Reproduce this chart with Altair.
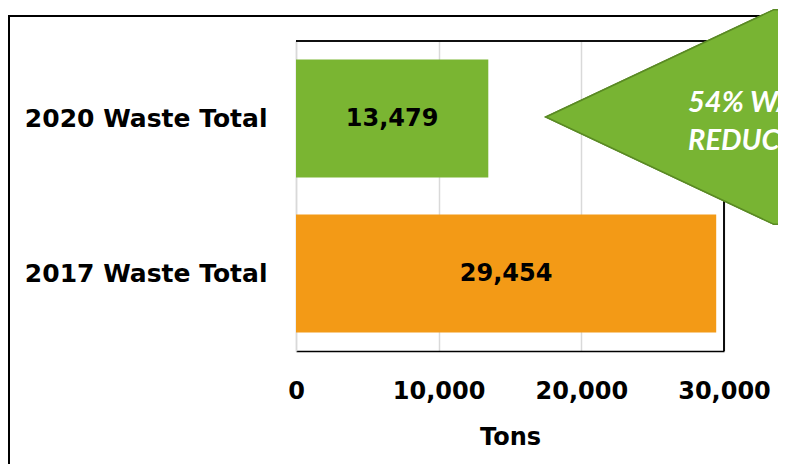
import altair as alt
import pandas as pd

categories = ["2020 Waste Total", "2017 Waste Total"]
tons = [13479, 29454]
bar_colors = ["#7AB532", "#F39A16"]
x_ticks = [0, 10000, 20000, 30000]
callout_lines = ["54% WASTE", "REDUCTION"]
x_title = "Tons"

df = pd.DataFrame({"category": categories, "tons": tons})

W, H = 428, 310
FONT = "DejaVu Sans"

y_axis = alt.Axis(title=None, ticks=False, labelPadding=29, labelFontSize=25,
                  labelFont=FONT, labelFontWeight="bold", labelColor="black",
                  domainColor="#d9d9d9", domainWidth=1.5, labelLimit=400)
x_axis = alt.Axis(values=x_ticks, labelExpr="format(datum.value, ',')", title=x_title,
                  ticks=False, labelFlush=False, labelOverlap=False,
                  labelPadding=28, labelFontSize=24, labelFont=FONT,
                  labelFontWeight="bold", labelColor="black",
                  titleFontSize=24, titleFont=FONT, titleFontWeight="bold",
                  titleColor="black", titlePadding=22,
                  domainColor="black", domainWidth=1.5,
                  gridColor="#d9d9d9", gridWidth=1.5)
x_scale = alt.Scale(domain=[0, 30000], nice=False)
y_scale = alt.Scale(paddingInner=0.24, paddingOuter=0.12)

base = alt.Chart(df)

bars = base.mark_bar().encode(
    y=alt.Y("category:N", sort=categories, scale=y_scale, axis=y_axis),
    x=alt.X("tons:Q", scale=x_scale, axis=x_axis, title=x_title),
    color=alt.Color("category:N", scale=alt.Scale(domain=categories, range=bar_colors),
                    legend=None),
)

labels = base.transform_calculate(mid="datum.tons / 2").mark_text(
    font=FONT, fontSize=24, fontWeight="bold", color="black", baseline="middle"
).encode(
    y=alt.Y("category:N", sort=categories, scale=y_scale, axis=y_axis),
    x=alt.X("mid:Q", scale=x_scale, axis=x_axis, title=x_title),
    text=alt.Text("tons:Q", format=","),
)

top_rule = base.mark_rule(color="black", strokeWidth=1.5).encode(
    x=alt.value(0), x2=alt.value(W), y=alt.value(0))
right_rule = base.mark_rule(color="black", strokeWidth=1.5).encode(
    x=alt.value(W), y=alt.value(0), y2=alt.value(H))

frame = base.mark_rect(fill=None, stroke="black", strokeWidth=2).encode(
    x=alt.value(-287), x2=alt.value(W + 300), y=alt.value(-25), y2=alt.value(H + 300))

callout = base.mark_point(
    shape="M -1 0 L 0.7 -0.8 L 1 -0.8 L 1 0.8 L 0.7 0.8 Z",
    filled=True, fill="#78B433", stroke="#5A8A24", strokeWidth=1.5, opacity=1, size=72000,
).encode(x=alt.value(384), y=alt.value(76))

callout_text = alt.Chart(pd.DataFrame({"t": [callout_lines]})).mark_text(
    font="Lato", fontSize=29, fontWeight="bold", fontStyle="italic", color="white",
    align="left", baseline="middle", lineHeight=38,
).encode(x=alt.value(392), y=alt.value(62), text="t")

chart = alt.layer(frame, bars, labels, top_rule, right_rule, callout, callout_text).properties(
    width=W, height=H,
    autosize=alt.AutoSizeParams(type="none"),
    padding={"left": 288, "top": 33, "right": 54, "bottom": 113},
).configure_view(stroke=None)

chart.save("out.html", embed_options={"renderer": "svg", "actions": False})
